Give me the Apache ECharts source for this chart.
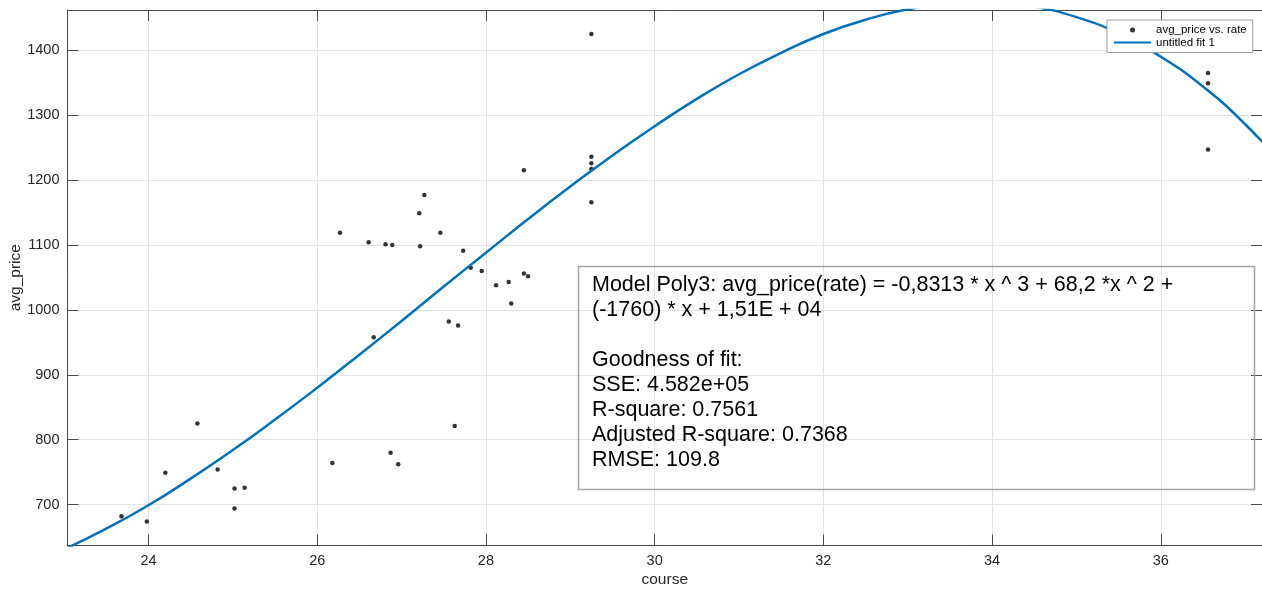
<!DOCTYPE html>
<html>
<head>
<meta charset="utf-8">
<title>avg_price vs. rate</title>
<script src="https://cdn.jsdelivr.net/npm/echarts@6/dist/echarts.min.js"></script>
<style>
  html, body { margin: 0; padding: 0; background: #ffffff; }
  #chart { width: 1262px; height: 592px; }
</style>
</head>
<body>
<div id="chart"></div>
<script>
// Observed exchange rate vs. average price
const rateValues = [23.68, 23.98, 24.20, 24.58, 24.82, 25.02, 25.14, 25.02, 26.18, 26.27,
                    26.61, 26.67, 26.81, 26.89, 26.87, 26.96, 27.21, 27.27, 27.22, 27.46,
                    27.73, 27.56, 27.67, 27.63, 27.82, 27.95, 28.12, 28.27, 28.30, 28.45,
                    28.50, 28.45, 29.25, 29.25, 29.25, 29.25, 29.25, 36.56, 36.56, 36.56];
const avgPriceValues = [682, 674, 749, 825, 754, 725, 726, 694, 764, 1119,
                        1104, 958, 1101, 1100, 780, 762, 1149, 1177, 1098, 1119,
                        1091, 982, 976, 821, 1065, 1060, 1038, 1043, 1010, 1056,
                        1052, 1215, 1425, 1236, 1226, 1217, 1166, 1365, 1349, 1247];

// Fitted cubic curve, sampled along the rate axis
const fitRate = [23.0, 23.5, 24.0, 24.5, 25.0, 25.5, 26.0, 26.5, 27.0, 27.5,
                 28.0, 28.5, 29.0, 29.5, 30.0, 30.5, 31.0, 31.5, 32.0, 32.5,
                 33.0, 33.5, 34.0, 34.5, 35.0, 35.5, 36.0, 36.5, 37.0, 37.5];
const fitPrice = [631, 663, 699, 740, 784, 831, 880, 931, 983, 1036,
                  1088, 1140, 1190, 1238, 1283, 1325, 1363, 1396, 1425, 1447,
                  1463, 1472, 1474, 1467, 1451, 1426, 1390, 1344, 1286, 1216];

const seriesNames = ['avg_price vs. rate', 'untitled fit 1'];
const axisNames = { x: 'course', y: 'avg_price' };

const fitSummary = [
  'Model Poly3: avg_price(rate) = -0,8313 * x ^ 3 + 68,2 *x ^ 2 +',
  '(-1760) * x + 1,51E + 04',
  '',
  'Goodness of fit:',
  'SSE: 4.582e+05',
  'R-square: 0.7561',
  'Adjusted R-square: 0.7368',
  'RMSE: 109.8'
];

const FONT = '"Liberation Sans", Arial, Helvetica, sans-serif';
const AXIS_COLOR = '#4a4a4a';
const TEXT_COLOR = '#262626';
const GRID_COLOR = '#e3e3e3';

const xRange = { min: 23.04, max: 37.2 };
const yRange = { min: 637, max: 1462 };

function primaryAxis(extra) {
  return Object.assign({
    type: 'value',
    nameMoveOverlap: false,
    axisLine: { show: true, onZero: false, lineStyle: { color: AXIS_COLOR, width: 1 } },
    axisTick: { show: true, inside: true, length: 11, lineStyle: { color: AXIS_COLOR, width: 1 } },
    axisLabel: { show: true, color: TEXT_COLOR, fontFamily: FONT, fontSize: 14.5, margin: 8,
                 showMinLabel: false, showMaxLabel: false,
                 formatter: (v) => String(Math.round(v)) },
    splitLine: { show: true, lineStyle: { color: GRID_COLOR, width: 1 } },
    nameTextStyle: { color: TEXT_COLOR, fontFamily: FONT, fontSize: 15.5 }
  }, extra);
}

function boxAxis(extra) {
  return Object.assign({
    type: 'value',
    axisLine: { show: true, onZero: false, lineStyle: { color: AXIS_COLOR, width: 1 } },
    axisTick: { show: true, inside: true, length: 11, lineStyle: { color: AXIS_COLOR, width: 1 } },
    axisLabel: { show: false },
    splitLine: { show: false }
  }, extra);
}

const chart = echarts.init(document.getElementById('chart'), null, { renderer: 'canvas' });

chart.setOption({
  animation: false,
  backgroundColor: '#ffffff',
  grid: { left: 67.5, right: 0, top: 10, bottom: 46.5, containLabel: false, outerBoundsMode: 'none' },
  xAxis: [
    primaryAxis({ position: 'bottom', min: xRange.min, max: xRange.max, splitNumber: 7,
                  name: axisNames.x, nameLocation: 'middle', nameGap: 26 }),
    boxAxis({ position: 'top', min: xRange.min, max: xRange.max, splitNumber: 7 })
  ],
  yAxis: [
    primaryAxis({ position: 'left', min: yRange.min, max: yRange.max, splitNumber: 8,
                  name: axisNames.y, nameLocation: 'middle', nameGap: 44 }),
    boxAxis({ position: 'right', min: yRange.min, max: yRange.max, splitNumber: 8 })
  ],
  legend: {
    data: [
      { name: seriesNames[0] },
      { name: seriesNames[1], itemStyle: { opacity: 0 } }
    ],
    orient: 'vertical',
    left: 1107,
    top: 20,
    padding: [4, 6, 4, 6],
    itemWidth: 37,
    itemHeight: 5,
    itemGap: 0.5,
    backgroundColor: '#ffffff',
    borderColor: '#a0a0a0',
    borderWidth: 1,
    textStyle: { fontFamily: FONT, fontSize: 11.5, color: '#000000', lineHeight: 12 }
  },
  series: [
    {
      name: seriesNames[0],
      type: 'scatter',
      xAxisIndex: 0,
      yAxisIndex: 0,
      symbol: 'circle',
      symbolSize: 4.5,
      itemStyle: { color: '#000000' },
      data: rateValues.map((r, i) => [r, avgPriceValues[i]])
    },
    {
      name: seriesNames[1],
      type: 'line',
      xAxisIndex: 0,
      yAxisIndex: 0,
      symbol: 'none',
      smooth: true,
      clip: true,
      lineStyle: { color: '#0072BD', width: 2.5 },
      itemStyle: { color: '#0072BD' },
      data: fitRate.map((r, i) => [r, fitPrice[i]])
    }
  ],
  graphic: [
    {
      type: 'rect',
      shape: { x: 578.5, y: 266.5, width: 676, height: 223 },
      style: { fill: 'none', stroke: '#a3a3a3', lineWidth: 1.5 },
      z: 10
    },
    {
      type: 'text',
      x: 592,
      y: 272.5,
      style: {
        text: fitSummary.join('\n'),
        font: '21.5px ' + FONT,
        lineHeight: 25,
        fill: '#000000',
        verticalAlign: 'top',
        align: 'left'
      },
      z: 10
    }
  ]
});
</script>
</body>
</html>
